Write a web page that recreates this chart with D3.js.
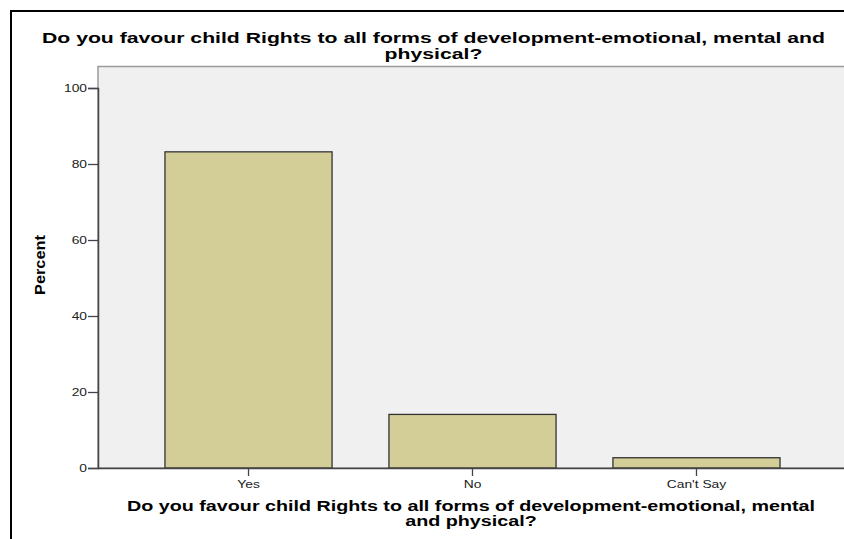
<!DOCTYPE html>
<html><head><meta charset="utf-8">
<script src="https://cdn.jsdelivr.net/npm/d3@7"></script>
<style>
body{margin:0;background:#fff;}
svg{display:block;}
</style></head>
<body>
<svg id="chart" width="844" height="539"></svg>
<script>
const categories = ["Yes", "No", "Can't Say"];
const percents = [83.2, 14.1, 2.7];
const yTicks = [0, 20, 40, 60, 80, 100];
const titleLines = ["Do you favour child Rights to all forms of development-emotional, mental and", "physical?"];
const xTitleLines = ["Do you favour child Rights to all forms of development-emotional, mental", "and physical?"];
const yTitle = "Percent";

const svg = d3.select("#chart");
const font = "'Liberation Sans', Arial, sans-serif";

// stretch a text horizontally (glyphs) by factor s
function stretch(sel, s) {
  sel.each(function() {
    const n = this.getComputedTextLength();
    d3.select(this).attr("textLength", n * s).attr("lengthAdjust", "spacingAndGlyphs");
  });
}

// outer frame
svg.append("rect").attr("x", 11).attr("y", 11).attr("width", 850).attr("height", 560)
  .attr("fill", "#fff").attr("stroke", "#000").attr("stroke-width", 2);

const plot = {left: 98, top: 66.5, right: 847, bottom: 468};

const x = d3.scaleBand().domain(categories).range([plot.left, plot.right]).paddingInner(0.254).paddingOuter(0.299);
const y = d3.scaleLinear().domain([0, 100]).range([468, 88]);

svg.append("rect").attr("x", plot.left).attr("y", plot.top)
  .attr("width", plot.right - plot.left).attr("height", plot.bottom - plot.top)
  .attr("fill", "#f0f0f0").attr("stroke", "#9a9a9a").attr("stroke-width", 1.5);

svg.append("g").selectAll("rect").data(categories).join("rect")
  .attr("x", d => x(d)).attr("width", x.bandwidth())
  .attr("y", (d, i) => y(percents[i])).attr("height", (d, i) => y(0) - y(percents[i]))
  .attr("fill", "#d3ce97").attr("stroke", "#333").attr("stroke-width", 1.3);

const yAxis = svg.append("g").attr("transform", `translate(${plot.left},0)`)
  .call(d3.axisLeft(y).tickValues(yTicks).tickSize(10).tickPadding(1));
const xAxis = svg.append("g").attr("transform", `translate(0,${plot.bottom})`)
  .call(d3.axisBottom(x).tickSize(8).tickPadding(4));
[yAxis, xAxis].forEach(a => {
  a.select(".domain").attr("stroke", "#444").attr("stroke-width", 1.5);
  a.selectAll(".tick line").attr("stroke", "#444").attr("stroke-width", 1.3);
  a.selectAll("text").attr("font-family", font).attr("font-size", 11.5).attr("fill", "#222");
  stretch(a.selectAll("text"), 1.2);
});
xAxis.select(".domain").attr("d", `M${plot.left},0.5H${plot.right}`);

// chart title
const title = svg.append("text").attr("text-anchor", "middle")
  .attr("font-family", font).attr("font-weight", "bold").attr("font-size", 15.5);
title.selectAll("tspan").data(titleLines).join("tspan")
  .attr("x", 433.5).attr("y", (d, i) => 42.5 + i * 16).text(d => d);
const tSpans = title.selectAll("tspan").nodes();
const tScale = 783 / tSpans[0].getComputedTextLength();
title.selectAll("tspan").each(function() {
  d3.select(this).attr("textLength", this.getComputedTextLength() * tScale).attr("lengthAdjust", "spacingAndGlyphs");
});

// x axis title
const xt = svg.append("text").attr("text-anchor", "middle")
  .attr("font-family", font).attr("font-weight", "bold").attr("font-size", 14.5);
xt.selectAll("tspan").data(xTitleLines).join("tspan")
  .attr("x", 471).attr("y", (d, i) => 511 + i * 14.5).text(d => d);
const xSpans = xt.selectAll("tspan").nodes();
const xScale = 688 / xSpans[0].getComputedTextLength();
xt.selectAll("tspan").each(function() {
  d3.select(this).attr("textLength", this.getComputedTextLength() * xScale).attr("lengthAdjust", "spacingAndGlyphs");
});

// y axis title
const yt = svg.append("text").attr("transform", "translate(45,265) rotate(-90)").attr("text-anchor", "middle")
  .attr("font-family", font).attr("font-weight", "bold").attr("font-size", 14).text(yTitle);
yt.attr("textLength", 60).attr("lengthAdjust", "spacingAndGlyphs");
</script>
</body></html>
